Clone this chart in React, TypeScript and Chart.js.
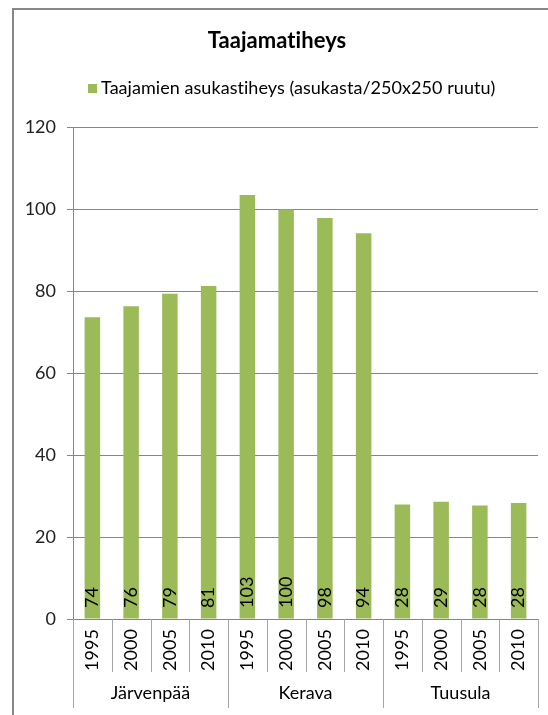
import React, { useEffect, useRef } from "react";
import { Chart, registerables } from "chart.js";
Chart.register(...registerables);

const titleText = "Taajamatiheys";
const seriesName = "Taajamien asukastiheys (asukasta/250x250 ruutu)";
const groups = ["Järvenpää", "Kerava", "Tuusula"];
const years = ["1995", "2000", "2005", "2010"];
const values = [73.6, 76.3, 79.3, 81.2, 103.4, 99.9, 97.8, 94.1, 27.9, 28.6, 27.7, 28.3];
const yTicks = [0, 20, 40, 60, 80, 100, 120];

const categories = groups.flatMap((g) => years.map((y) => `${g} ${y}`));

const FONT = "Lato, 'Open Sans', sans-serif";
const BAR = "#9BBB59";
const GRID = "#868686";
const SEP = "#A6A6A6";

const decorPlugin = {
  id: "decor",
  beforeDraw(chart: any) {
    const ctx = chart.ctx;
    ctx.save();
    ctx.fillStyle = "#ffffff";
    ctx.fillRect(0, 0, chart.width, chart.height);
    ctx.strokeStyle = "#888888";
    ctx.lineWidth = 2;
    ctx.beginPath();
    ctx.moveTo(13, chart.height);
    ctx.lineTo(13, 9);
    ctx.lineTo(chart.width, 9);
    ctx.stroke();
    try {
      (ctx as any).letterSpacing = "0.05px";
    } catch (e) {}
    // title
    ctx.fillStyle = "#000";
    ctx.font = `bold 22px ${FONT}`;
    ctx.textAlign = "center";
    ctx.textBaseline = "middle";
    ctx.fillText(titleText, 277, 41);
    // legend
    ctx.fillStyle = BAR;
    ctx.fillRect(88, 84, 9, 9);
    ctx.fillStyle = "#000";
    ctx.font = `18px ${FONT}`;
    ctx.textAlign = "left";
    ctx.fillText(seriesName, 101, 88);
    ctx.restore();
  },
  afterDraw(chart: any) {
    const ctx = chart.ctx;
    const x = chart.scales.x;
    const area = chart.chartArea;
    const n = categories.length;
    const step = (x.right - x.left) / n;
    ctx.save();
    // separators
    ctx.strokeStyle = SEP;
    ctx.lineWidth = 1;
    for (let k = 0; k <= n; k++) {
      const px = Math.round(x.left + k * step) + 0.5;
      const long = k % years.length === 0;
      ctx.beginPath();
      ctx.moveTo(px, area.bottom);
      ctx.lineTo(px, long ? 708 : 672);
      ctx.stroke();
    }
    // year labels
    ctx.fillStyle = "#000";
    ctx.font = `18px ${FONT}`;
    ctx.textAlign = "center";
    ctx.textBaseline = "middle";
    categories.forEach((_, i) => {
      const cx = x.getPixelForValue(i);
      ctx.save();
      ctx.translate(cx, 650);
      ctx.rotate(-Math.PI / 2);
      ctx.fillText(years[i % years.length], 0, 0);
      ctx.restore();
    });
    // group labels
    groups.forEach((g, gi) => {
      const cx = x.left + (gi * years.length + years.length / 2) * step;
      ctx.fillText(g, cx, 693);
    });
    // data labels
    const meta = chart.getDatasetMeta(0);
    meta.data.forEach((bar: any, i: number) => {
      ctx.save();
      ctx.translate(bar.x, area.bottom - 11);
      ctx.rotate(-Math.PI / 2);
      ctx.textAlign = "left";
      ctx.fillText(String(Math.round(values[i])), 0, 0);
      ctx.restore();
    });
    ctx.restore();
  },
};

export default function App() {
  const ref = useRef<HTMLCanvasElement>(null);
  useEffect(() => {
    if (!ref.current) return;
    const chart = new Chart(ref.current, {
      type: "bar",
      data: {
        labels: categories,
        datasets: [
          {
            label: seriesName,
            data: values,
            backgroundColor: BAR,
            borderWidth: 0,
            barPercentage: 0.4,
            categoryPercentage: 1,
          },
        ],
      },
      options: {
        animation: false,
        responsive: false,
        maintainAspectRatio: false,
        layout: { padding: { left: 0, right: 10, top: 127, bottom: 0 } },
        plugins: {
          legend: { display: false },
          title: { display: false },
          tooltip: { enabled: false },
        },
        scales: {
          x: {
            offset: true,
            grid: { display: false },
            border: { display: true, color: GRID },
            ticks: { display: false },
            afterFit: (s: any) => {
              s.height = 96;
            },
          },
          y: {
            min: 0,
            max: 120,
            afterBuildTicks: (s: any) => {
              s.ticks = yTicks.map((v) => ({ value: v }));
            },
            grid: { color: GRID, tickLength: 6, drawTicks: true },
            border: { display: true, color: GRID },
            ticks: {
              padding: 11,
              color: "#222",
              font: { family: FONT, size: 18 },
            },
            afterFit: (s: any) => {
              s.width = 73;
            },
          },
        },
      },
      plugins: [decorPlugin],
    });
    return () => chart.destroy();
  }, []);
  return (
    <div style={{ position: "fixed", left: 0, top: 0, width: 548, height: 715, overflow: "hidden" }}>
      <canvas ref={ref} width={548} height={715} style={{ width: 548, height: 715, display: "block" }} />
    </div>
  );
}
